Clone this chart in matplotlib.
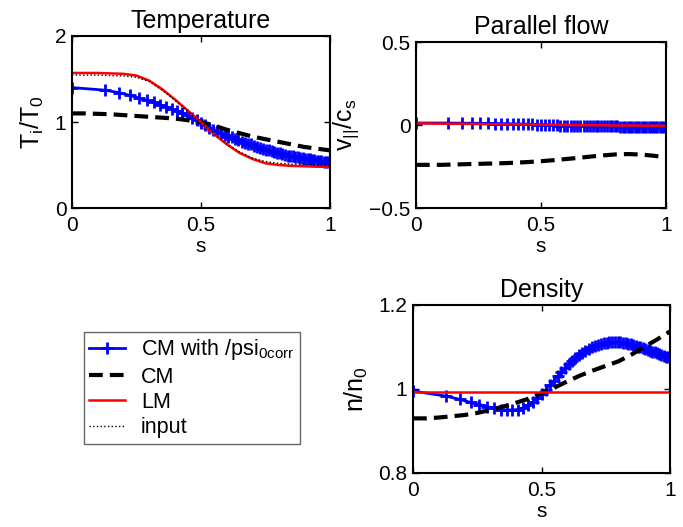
import matplotlib as mpl
import matplotlib.pyplot as plt

mpl.rcParams["font.family"] = ["Liberation Sans", "DejaVu Sans"]
mpl.rcParams["mathtext.fontset"] = "custom"
mpl.rcParams["mathtext.rm"] = "Liberation Sans"
mpl.rcParams["mathtext.it"] = "Liberation Sans"
mpl.rcParams["font.size"] = 15

# radial grid of the corrected CM run (denser towards the edge)
s_cm = [0.0, 0.129, 0.183, 0.224, 0.258, 0.289, 0.316, 0.342, 0.365, 0.387,
        0.408, 0.428, 0.447, 0.465, 0.483, 0.5, 0.516, 0.532, 0.548, 0.563,
        0.577, 0.592, 0.606, 0.619, 0.632, 0.645, 0.658, 0.671, 0.683, 0.695,
        0.707, 0.719, 0.730, 0.742, 0.753, 0.764, 0.775, 0.785, 0.796, 0.806,
        0.816, 0.827, 0.837, 0.847, 0.856, 0.866, 0.876, 0.885, 0.894, 0.904,
        0.913, 0.922, 0.931, 0.940, 0.949, 0.957, 0.966, 0.975, 0.983, 0.992, 1.0]

T_corr = [1.40, 1.37, 1.34, 1.31, 1.28, 1.25, 1.23, 1.20, 1.18, 1.15,
          1.13, 1.11, 1.08, 1.05, 1.02, 0.99, 0.96, 0.93, 0.91, 0.89,
          0.87, 0.85, 0.83, 0.82, 0.80, 0.79, 0.77, 0.76, 0.75, 0.74,
          0.72, 0.71, 0.70, 0.69, 0.68, 0.67, 0.66, 0.65, 0.64, 0.635,
          0.625, 0.62, 0.61, 0.605, 0.60, 0.595, 0.59, 0.585, 0.58, 0.575,
          0.57, 0.565, 0.56, 0.555, 0.55, 0.548, 0.545, 0.54, 0.537, 0.533, 0.53]

v_corr = [0.012, 0.012, 0.011, 0.011, 0.010, 0.010, 0.009, 0.008, 0.008, 0.007,
          0.006, 0.006, 0.005, 0.004, 0.003, 0.002, 0.001, 0.0, -0.001, -0.002,
          -0.003, -0.003, -0.004, -0.005, -0.005, -0.006, -0.006, -0.007, -0.007, -0.008,
          -0.008, -0.008, -0.008, -0.009, -0.009, -0.009, -0.009, -0.009, -0.009, -0.009,
          -0.010, -0.010, -0.010, -0.010, -0.010, -0.010, -0.010, -0.010, -0.010, -0.010,
          -0.010, -0.010, -0.010, -0.010, -0.010, -0.010, -0.010, -0.010, -0.010, -0.010, -0.010]

n_corr = [0.995, 0.983, 0.975, 0.968, 0.963, 0.958, 0.954, 0.951, 0.950, 0.950,
          0.951, 0.955, 0.961, 0.969, 0.978, 0.988, 0.998, 1.009, 1.020, 1.030,
          1.040, 1.050, 1.059, 1.067, 1.074, 1.080, 1.086, 1.091, 1.095, 1.099,
          1.102, 1.105, 1.107, 1.109, 1.110, 1.111, 1.111, 1.111, 1.111, 1.111,
          1.110, 1.109, 1.108, 1.106, 1.105, 1.103, 1.101, 1.099, 1.097, 1.095,
          1.093, 1.091, 1.089, 1.087, 1.085, 1.083, 1.081, 1.079, 1.077, 1.075, 1.073]

# uniform grid for CM, LM and input profiles
s = [0.0, 0.05, 0.1, 0.15, 0.2, 0.25, 0.3, 0.35, 0.4, 0.45, 0.5,
     0.55, 0.6, 0.65, 0.7, 0.75, 0.8, 0.85, 0.9, 0.95, 1.0]

T_cm = [1.10, 1.10, 1.095, 1.09, 1.08, 1.07, 1.06, 1.05, 1.04, 1.02, 1.0,
        0.96, 0.91, 0.87, 0.83, 0.80, 0.77, 0.74, 0.71, 0.69, 0.67]
T_lm = [1.57, 1.57, 1.57, 1.565, 1.56, 1.54, 1.48, 1.38, 1.26, 1.13, 1.0,
        0.86, 0.74, 0.64, 0.57, 0.52, 0.50, 0.49, 0.485, 0.48, 0.48]
T_in = [1.545, 1.545, 1.545, 1.54, 1.535, 1.52, 1.47, 1.37, 1.25, 1.12, 1.0,
        0.87, 0.75, 0.65, 0.58, 0.54, 0.52, 0.51, 0.505, 0.50, 0.50]

v_cm = [-0.24, -0.24, -0.24, -0.238, -0.236, -0.234, -0.232, -0.23, -0.227, -0.223, -0.218,
        -0.212, -0.205, -0.198, -0.19, -0.183, -0.177, -0.175, -0.178, -0.185, -0.195]
v_lm = [0.010, 0.009, 0.008, 0.008, 0.007, 0.006, 0.005, 0.004, 0.004, 0.003, 0.002,
        0.001, 0.0, -0.001, -0.001, -0.002, -0.003, -0.003, -0.004, -0.004, -0.005]

n_cm = [0.93, 0.93, 0.932, 0.935, 0.938, 0.943, 0.95, 0.958, 0.967, 0.977, 0.99,
        1.003, 1.018, 1.032, 1.044, 1.055, 1.066, 1.082, 1.10, 1.118, 1.137]
n_lm = [0.993, 0.993, 0.993, 0.993, 0.993, 0.993, 0.993, 0.993, 0.993, 0.993, 0.993,
        0.993, 0.993, 0.993, 0.993, 0.993, 0.993, 0.993, 0.993, 0.993, 0.993]


def style_axes(ax, ylim, yticks, yticklabels):
    ax.set_xlim(0, 1)
    ax.set_ylim(*ylim)
    ax.set_xticks([0, 0.5, 1])
    ax.set_xticklabels(["0", "0.5", "1"])
    ax.set_yticks(yticks)
    ax.set_yticklabels(yticklabels)
    ax.tick_params(direction="in", top=True, right=True, length=4, width=1, pad=4)
    ax.tick_params(axis="x", pad=6)
    for spine in ax.spines.values():
        spine.set_linewidth(1.5)
    ax.set_xlabel("s", labelpad=1)


def draw_profiles(ax, corr, cm, lm, inp=None):
    h1, = ax.plot(s_cm, corr, color="blue", linewidth=2, marker="+",
                  markersize=9, markeredgewidth=2, label="CM with /psi$_{0corr}$")
    h2, = ax.plot(s, cm, color="black", linestyle=(0, (3.3, 1.7)), linewidth=3, label="CM")
    h3, = ax.plot(s, lm, color="red", linewidth=1.8, label="LM")
    handles = [h1, h2, h3]
    if inp is not None:
        h4, = ax.plot(s, inp, color="black", linestyle=":", linewidth=1, label="input")
        handles.append(h4)
    return handles


fig = plt.figure(figsize=(6.83, 5.27), dpi=100)

ax_T = fig.add_axes([0.1054, 0.6053, 0.3777, 0.3264])
handles = draw_profiles(ax_T, T_corr, T_cm, T_lm, T_in)
style_axes(ax_T, (0, 2), [0, 1, 2], ["0", "1", "2"])
ax_T.set_title("Temperature", pad=6)
ax_T.set_ylabel(r"$\mathrm{T_i/T_0}$", fontsize=18, labelpad=6)

ax_v = fig.add_axes([0.609, 0.6053, 0.366, 0.315])
draw_profiles(ax_v, v_corr, v_cm, v_lm)
style_axes(ax_v, (-0.5, 0.5), [-0.5, 0, 0.5], ["\u22120.5", "0", "0.5"])
ax_v.set_title("Parallel flow", pad=6)
ax_v.set_ylabel(r"$\mathrm{v_{||}/c_s}$", fontsize=18, labelpad=6)

ax_n = fig.add_axes([0.6047, 0.1025, 0.3763, 0.3188])
draw_profiles(ax_n, n_corr, n_cm, n_lm)
style_axes(ax_n, (0.8, 1.2), [0.8, 1.0, 1.2], ["0.8", "1", "1.2"])
ax_n.set_title("Density", pad=6)
ax_n.set_ylabel(r"$\mathrm{n/n_0}$", fontsize=18, labelpad=6)

leg = fig.legend(handles=handles, loc="upper left",
                 bbox_to_anchor=(84 / 683, 1 - 332 / 527), borderaxespad=0,
                 fontsize=15.5, fancybox=False, framealpha=1, edgecolor="0.4",
                 handlelength=1.65, handletextpad=0.75, labelspacing=0.2,
                 borderpad=0.25, numpoints=1)
leg.get_frame().set_linewidth(1)

fig.savefig("out.png", dpi=100)
